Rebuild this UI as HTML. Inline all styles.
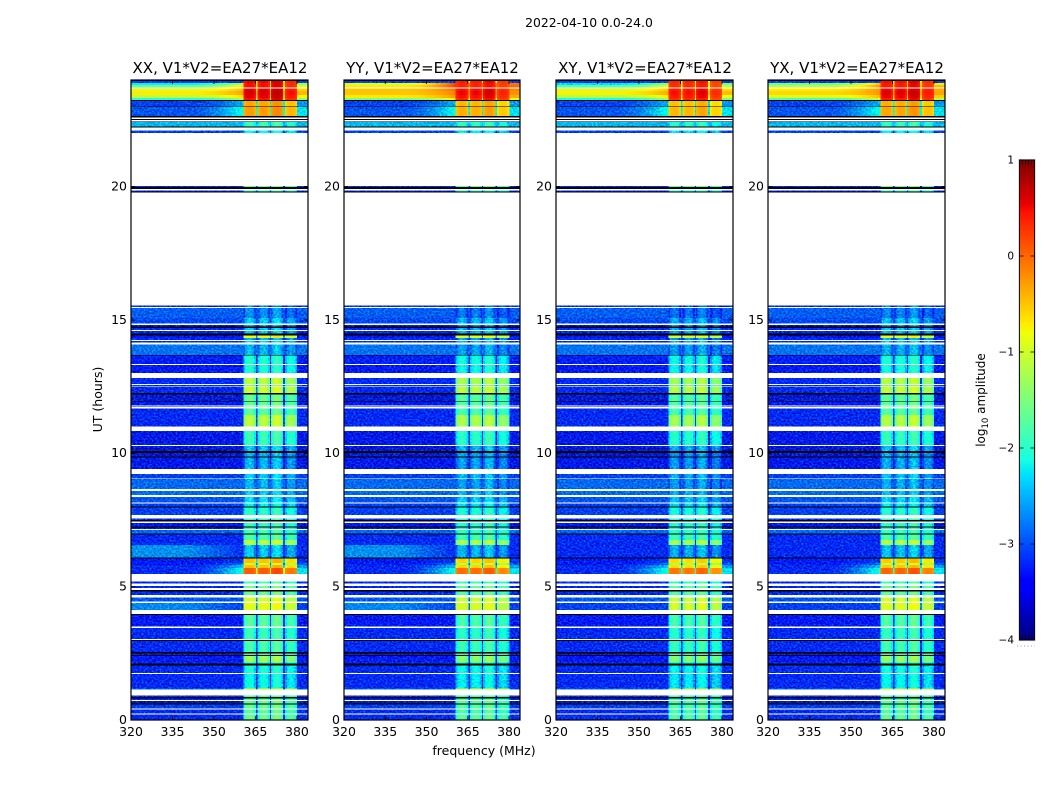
<!DOCTYPE html>
<html>
<head>
<meta charset="utf-8">
<title>2022-04-10 0.0-24.0</title>
<style>
html,body{margin:0;padding:0;background:#fff;}
svg{display:block;}
text{font-family:"DejaVu Sans","Liberation Sans",sans-serif;fill:#000;}
</style>
</head>
<body>
<svg id="figure" xmlns="http://www.w3.org/2000/svg" width="1050" height="800" viewBox="0 0 1050 800">
<defs>
<filter id="speckle" filterUnits="userSpaceOnUse" x="0" y="0" width="1050" height="800" color-interpolation-filters="sRGB">
<feTurbulence type="fractalNoise" baseFrequency="0.5 0.62" numOctaves="1" seed="7" result="n"/>
<feColorMatrix in="n" type="matrix" values="0 0 0 0 1  0 0 0 0 1  1.8 0 0 0 0.15  0 0 0 0 1" result="dim"/>
<feColorMatrix in="n" type="matrix" values="0 0 0 0 0  1.0 0 0 0 -0.4  0 0 0 0 0  0 0 0 0 1" result="lift"/>
<feComposite in="SourceGraphic" in2="dim" operator="arithmetic" k1="1" k2="0" k3="0" k4="0" result="dimmed"/>
<feComposite in="dimmed" in2="lift" operator="arithmetic" k1="0" k2="1" k3="1" k4="0" result="lifted"/>
<feComposite in="lifted" in2="SourceAlpha" operator="in"/>
</filter>
</defs>
<text x="589" y="27" text-anchor="middle" font-size="12.4">2022-04-10 0.0-24.0</text>
<text x="484" y="755" text-anchor="middle" font-size="12.5">frequency (MHz)</text>
<text x="102" y="399.5" text-anchor="middle" font-size="12.5" transform="rotate(-90 102 399.5)">UT (hours)</text>
<text x="985" y="400" text-anchor="middle" font-size="12" transform="rotate(-90 985 400)">log<tspan font-size="8.5" dy="3">10</tspan><tspan dy="-3"> amplitude</tspan></text>
</svg>
<script>
const panelNames = ['XX', 'YY', 'XY', 'YX'];
const panelBrightBoost = [0, 1, -0.15, 0.5];
const panelParallel = [1, 1, 0, 0];
const panelOnOffset = [0, -0.1, -0.15, -0.05];
const xTicks = [320, 335, 350, 365, 380];
const yTicks = [0, 5, 10, 15, 20];
const colorTicks = [-4, -3, -2, -1, 0, 1];
const subbandStart = [360.6, 365.8, 370.6, 375.7];
const subbandEnd = [365.2, 370.2, 375.0, 380.1];
const subbandOffset = [0, 0, 0.1, -0.15];
const subbandProfile = [-0.3, 0, 0.1, 0.15, 0.1, 0, -0.3];
const W = null;
const K = -9;
const rowTopHour = [
24.00,23.96,23.89,23.81,23.72,23.68,23.59,23.44,23.33,23.25,23.22,23.03,23.00,22.65,22.59,22.54,22.50,22.45,22.43,22.25,
22.21,22.10,22.02,20.03,19.98,19.91,19.86,19.81,19.78,15.54,15.49,15.45,15.08,14.87,14.82,14.76,14.70,14.63,14.59,14.50,
14.41,14.33,14.25,14.21,14.16,14.09,13.69,13.66,13.35,13.31,13.02,12.83,12.60,12.56,12.53,12.50,12.27,12.21,11.96,11.94,
11.80,11.76,11.73,11.68,11.44,11.00,10.84,10.31,10.28,10.09,10.02,9.88,9.85,9.42,9.23,9.06,9.03,8.66,8.59,8.44,
8.37,8.15,8.11,8.00,7.96,7.68,7.56,7.50,7.45,7.39,7.26,7.21,7.17,7.13,6.99,6.96,6.75,6.56,6.09,6.06,
5.89,5.81,5.70,5.48,5.20,5.12,5.03,4.95,4.88,4.82,4.69,4.60,4.45,4.38,4.13,3.98,3.94,3.50,3.45,3.04,
3.00,2.96,2.55,2.50,2.44,2.40,2.18,2.12,2.04,1.76,1.73,1.18,1.14,0.91,0.87,0.81,0.75,0.71,0.62,0.58,
0.44,0.40,0.25,0.21
];
const rowOffSource = [
K,-3.2,-2.2,-1.6,W,-0.9,-0.7,-1.1,-2,K,-3.2,K,-3.1,K,W,K,W,K,-2.6,K,
W,-3.2,W,-3.3,K,W,-3.3,K,W,-3.3,W,-3.05,-3.15,W,-3.5,K,-3.3,W,-3.3,K,
-3.4,-3.3,W,-3.3,W,-2.95,K,-3.35,W,-3.4,W,-3.3,W,-3.3,W,-3.3,K,-3.6,K,-3.4,
W,-3.4,W,-3.3,-3.3,W,-3.5,W,-3.6,K,-3.6,K,-3.5,W,-3.2,W,-3,W,-3,W,
-3.1,W,-3.2,K,-3.2,W,-3.3,K,W,-3.5,K,-3.4,W,-3,K,-3.3,-3.3,-3.3,K,-3.4,
-3.4,-3.3,-3.3,W,-3.3,W,-3.3,W,K,-3.3,W,-3.1,W,-3.2,W,K,-3.4,W,-3.3,W,
K,-3.3,K,-3.4,K,-3.4,-3.3,K,-3.3,W,-3.3,-3,W,-3.3,K,-3.3,W,-3.8,K,-3.2,
W,-3.3,W,-3.3
];
const rowOnSource = [
K,0.5,0.45,0.45,W,0.55,0.6,0.55,0.45,K,-0.35,K,-0.3,K,W,K,W,K,-2,K,
W,-2.3,W,-1.6,K,W,-2,K,W,-3,W,-2.9,-2.6,W,-2.8,K,-2.6,W,-2.6,K,
-0.8,-2.7,W,-2.6,W,-2.7,K,-2.15,W,-2.2,W,-1.2,W,-1.6,W,-1.1,K,-1.7,K,-1.7,
W,-1.7,W,-1.8,-1.2,W,-2,W,-2.6,K,-2.7,K,-2.7,W,-2.6,W,-2.7,W,-2.6,W,
-2.5,W,-2.4,K,-2.1,W,-2,K,W,-2,K,-2,W,-1.9,K,-1.85,-1.2,-2.6,K,-0.5,
-1.1,-0.5,0.05,W,-1.9,W,-1.6,W,K,-1.7,W,-1,W,-0.9,W,K,-1.8,W,-2,W,
K,-1.9,K,-1.9,K,-1.4,-1.9,K,-2.2,W,-2.3,-0.9,W,-1.9,K,-1.7,W,-1.7,K,-1.7,
W,-1.8,W,-1.7
];
const rampHours = [23.89, 23.81, 23.68, 23.59, 23.44, 23.33, 23.22, 23.00, 6.06, 5.89, 5.81, 5.70];
const rampLift = [1.2, 1.0, 0.5, 0.4, 0.5, 0.9, 0.6, 1.0, 0.2, 0.5, 0.8, 1.3];
const brightHours = [23.89, 23.81, 23.68, 23.59, 23.44, 23.33];
const brightWeight = [1.3, 0.9, 0.4, 0.2, 0.4, 0.5];
const parallelHours = [6.56, 4.38];
const parallelLift = [0.5, 0.35];

const NS = 'http://www.w3.org/2000/svg';
const figure = document.getElementById('figure');
const panelLeft = [131, 344, 556, 768];
const panelRight = [308, 520, 733, 945];
const plotTop = 80, plotBottom = 720;
const cbLeft = 1019.5, cbRight = 1034.5, cbTop = 160, cbBottom = 640;

function lerp(v, pts) {
  if (v <= pts[0][0]) return pts[0][1];
  for (let i = 1; i < pts.length; i++) {
    if (v <= pts[i][0]) {
      const a = pts[i - 1], b = pts[i];
      return a[1] + (b[1] - a[1]) * (v - a[0]) / (b[0] - a[0]);
    }
  }
  return pts[pts.length - 1][1];
}
function jet(level) {
  if (level < -4.5) return '#000';
  const t = Math.max(0, Math.min(1, (level + 4) / 5));
  const r = lerp(t, [[0, 0], [0.35, 0], [0.66, 1], [0.89, 1], [1, 0.5]]);
  const g = lerp(t, [[0, 0], [0.125, 0], [0.375, 1], [0.64, 1], [0.91, 0], [1, 0]]);
  const b = lerp(t, [[0, 0.5], [0.11, 1], [0.34, 1], [0.65, 0], [1, 0]]);
  return 'rgb(' + Math.round(r * 255) + ',' + Math.round(g * 255) + ',' + Math.round(b * 255) + ')';
}
function xScale(p, freq) {
  return panelLeft[p] + (freq - 320) / 64 * (panelRight[p] - panelLeft[p]);
}
function yScale(hour) {
  return plotBottom - hour / 24 * (plotBottom - plotTop);
}
function colorScale(level) {
  return cbBottom - (level + 4) / 5 * (cbBottom - cbTop);
}
function make(tag, attrs, parent) {
  const el = document.createElementNS(NS, tag);
  for (const k in attrs) el.setAttribute(k, attrs[k]);
  parent.appendChild(el);
  return el;
}
function lookup(keys, vals, key) {
  const i = keys.indexOf(key);
  return i < 0 ? 0 : vals[i];
}
function cell(groups, p, f0, f1, hTop, hBottom, level, threshold) {
  const parent = level < -4.5 || level >= threshold ? groups.smooth : groups.noisy;
  const x0 = xScale(p, f0), x1 = xScale(p, f1);
  const y0 = yScale(hTop), y1 = yScale(hBottom);
  const el = make('rect', {x: x0, y: y0, width: x1 - x0, height: y1 - y0, fill: jet(level)}, parent);
  
  
  return el;
}

panelNames.forEach(function (name, p) {
  const panel = make('g', {}, figure);
  
  

  const noisy = make('g', {filter: 'url(#speckle)', 'shape-rendering': 'crispEdges'}, panel);
  
  
  const smooth = make('g', {'shape-rendering': 'crispEdges'}, panel);
  
  
  const groups = {noisy: noisy, smooth: smooth};

  rowTopHour.forEach(function (hTop, r) {
    const hBottom = r + 1 < rowTopHour.length ? rowTopHour[r + 1] : 0;
    const off = rowOffSource[r], on = rowOnSource[r];
    if (off === null) return;
    if (off === K) {
      cell(groups, p, 320, 384, hTop, hBottom, K, -2.2);
      return;
    }
    const bg = off + panelBrightBoost[p] * lookup(brightHours, brightWeight, hTop);
    const par = panelParallel[p] * lookup(parallelHours, parallelLift, hTop);
    const ramp = lookup(rampHours, rampLift, hTop);
    const peak = on + panelOnOffset[p];
    if (ramp === 0 && par === 0) {
      cell(groups, p, 320, subbandStart[0], hTop, hBottom, bg, -2.2);
    } else {
      cell(groups, p, 320, 340, hTop, hBottom, bg + par, -2.2);
      for (let f = 340; f < subbandStart[0]; f += 1) {
        const frac = (f - 340) / (subbandStart[0] - 340);
        cell(groups, p, f, Math.min(f + 1, subbandStart[0]), hTop, hBottom,
          bg + par * (1 - frac) + ramp * frac * frac, -2.2);
      }
    }
    cell(groups, p, subbandEnd[3], 384, hTop, hBottom, bg + ramp * 0.7, -2.2);
    const gap = Math.max(bg + ramp * 0.7, peak > 0 ? peak - 1.1 : peak - 1.9);
    const shapeScale = peak > -1.05 ? 0.3 : 1;
    subbandStart.forEach(function (s, b) {
      const step = (subbandEnd[b] - s) / subbandProfile.length;
      subbandProfile.forEach(function (shape, c) {
        cell(groups, p, s + c * step, s + (c + 1) * step, hTop, hBottom,
          peak + subbandOffset[b] + shape * shapeScale, -1.8);
      });
      if (b < 3) cell(groups, p, subbandEnd[b], subbandStart[b + 1], hTop, hBottom, gap, -1.8);
    });
  });

  const frame = make('rect', {
    x: panelLeft[p], y: plotTop,
    width: panelRight[p] - panelLeft[p], height: plotBottom - plotTop,
    fill: 'none', stroke: '#000', 'stroke-width': 1.2
  }, panel);
  
  

  xTicks.forEach(function (t) {
    const x = xScale(p, t);
    const tickB = make('line', {x1: x, x2: x, y1: plotBottom, y2: plotBottom - 4, stroke: '#000', 'stroke-width': 0.8}, panel);
    
    
    const tickT = make('line', {x1: x, x2: x, y1: plotTop, y2: plotTop + 4, stroke: '#000', 'stroke-width': 0.8}, panel);
    
    
    const label = make('text', {x: x, y: 736, 'text-anchor': 'middle', 'font-size': 12.5}, panel);
    
    
    label.textContent = String(t);
  });
  yTicks.forEach(function (t) {
    const y = yScale(t);
    const tickL = make('line', {x1: panelLeft[p], x2: panelLeft[p] + 4, y1: y, y2: y, stroke: '#000', 'stroke-width': 0.8}, panel);
    
    
    const tickR = make('line', {x1: panelRight[p], x2: panelRight[p] - 4, y1: y, y2: y, stroke: '#000', 'stroke-width': 0.8}, panel);
    
    
    const label = make('text', {x: panelLeft[p] - 4, y: y + 3.8, 'text-anchor': 'end', 'font-size': 12.5}, panel);
    
    
    label.textContent = String(t);
  });
  const title = make('text', {
    x: (panelLeft[p] + panelRight[p]) / 2 + 0.5, y: 73,
    'text-anchor': 'middle', 'font-size': 15
  }, panel);
  
  
  title.textContent = name + ', V1*V2=EA27*EA12';
});

const colorbar = make('g', {}, figure);


const ramp = make('g', {'shape-rendering': 'crispEdges'}, colorbar);


const vmin = colorTicks[0], vmax = colorTicks[colorTicks.length - 1];
for (let i = 0; i < 240; i++) {
  const lo = vmin + (vmax - vmin) * i / 240;
  const hi = vmin + (vmax - vmin) * (i + 1) / 240;
  const seg = make('rect', {
    x: cbLeft, y: colorScale(hi), width: cbRight - cbLeft,
    height: colorScale(lo) - colorScale(hi) + 0.5, fill: jet((lo + hi) / 2)
  }, ramp);
  
  
}
const cbOuter = make('rect', {x: cbLeft - 0.6, y: cbTop - 0.6, width: cbRight - cbLeft + 1.2, height: cbBottom - cbTop + 1.2, fill: 'none', stroke: '#c8c8c8', 'stroke-width': 1}, colorbar);


const cbFrame = make('rect', {x: cbLeft, y: cbTop, width: cbRight - cbLeft, height: cbBottom - cbTop, fill: 'none', stroke: '#000', 'stroke-width': 0.9}, colorbar);


colorTicks.forEach(function (t) {
  const y = colorScale(t);
  const a = make('line', {x1: cbLeft, x2: cbLeft + 4, y1: y, y2: y, stroke: '#000', 'stroke-width': 0.8}, colorbar);
  
  
  const b = make('line', {x1: cbRight - 4, x2: cbRight, y1: y, y2: y, stroke: '#000', 'stroke-width': 0.8}, colorbar);
  
  
  const label = make('text', {x: 1014, y: y + 3.5, 'text-anchor': 'end', 'font-size': 10.5}, colorbar);
  
  
  label.textContent = String(t).replace('-', '\u2212');
});
[0, 1, 2, 3].forEach(function (i) {
  const x = cbLeft + 3 * (i + 1);
  const top = make('line', {x1: x, x2: x, y1: cbTop, y2: cbTop + 5, stroke: '#000', 'stroke-width': 0.7}, colorbar);
  
  
  const bottom = make('line', {x1: x, x2: x, y1: cbBottom, y2: cbBottom - 5, stroke: '#000', 'stroke-width': 0.7}, colorbar);
  
  
});
const dots = make('line', {x1: 1017, x2: 1035, y1: 646, y2: 646, stroke: '#999', 'stroke-width': 1, 'stroke-dasharray': '1 2.5'}, colorbar);


</script>
</body>
</html>
